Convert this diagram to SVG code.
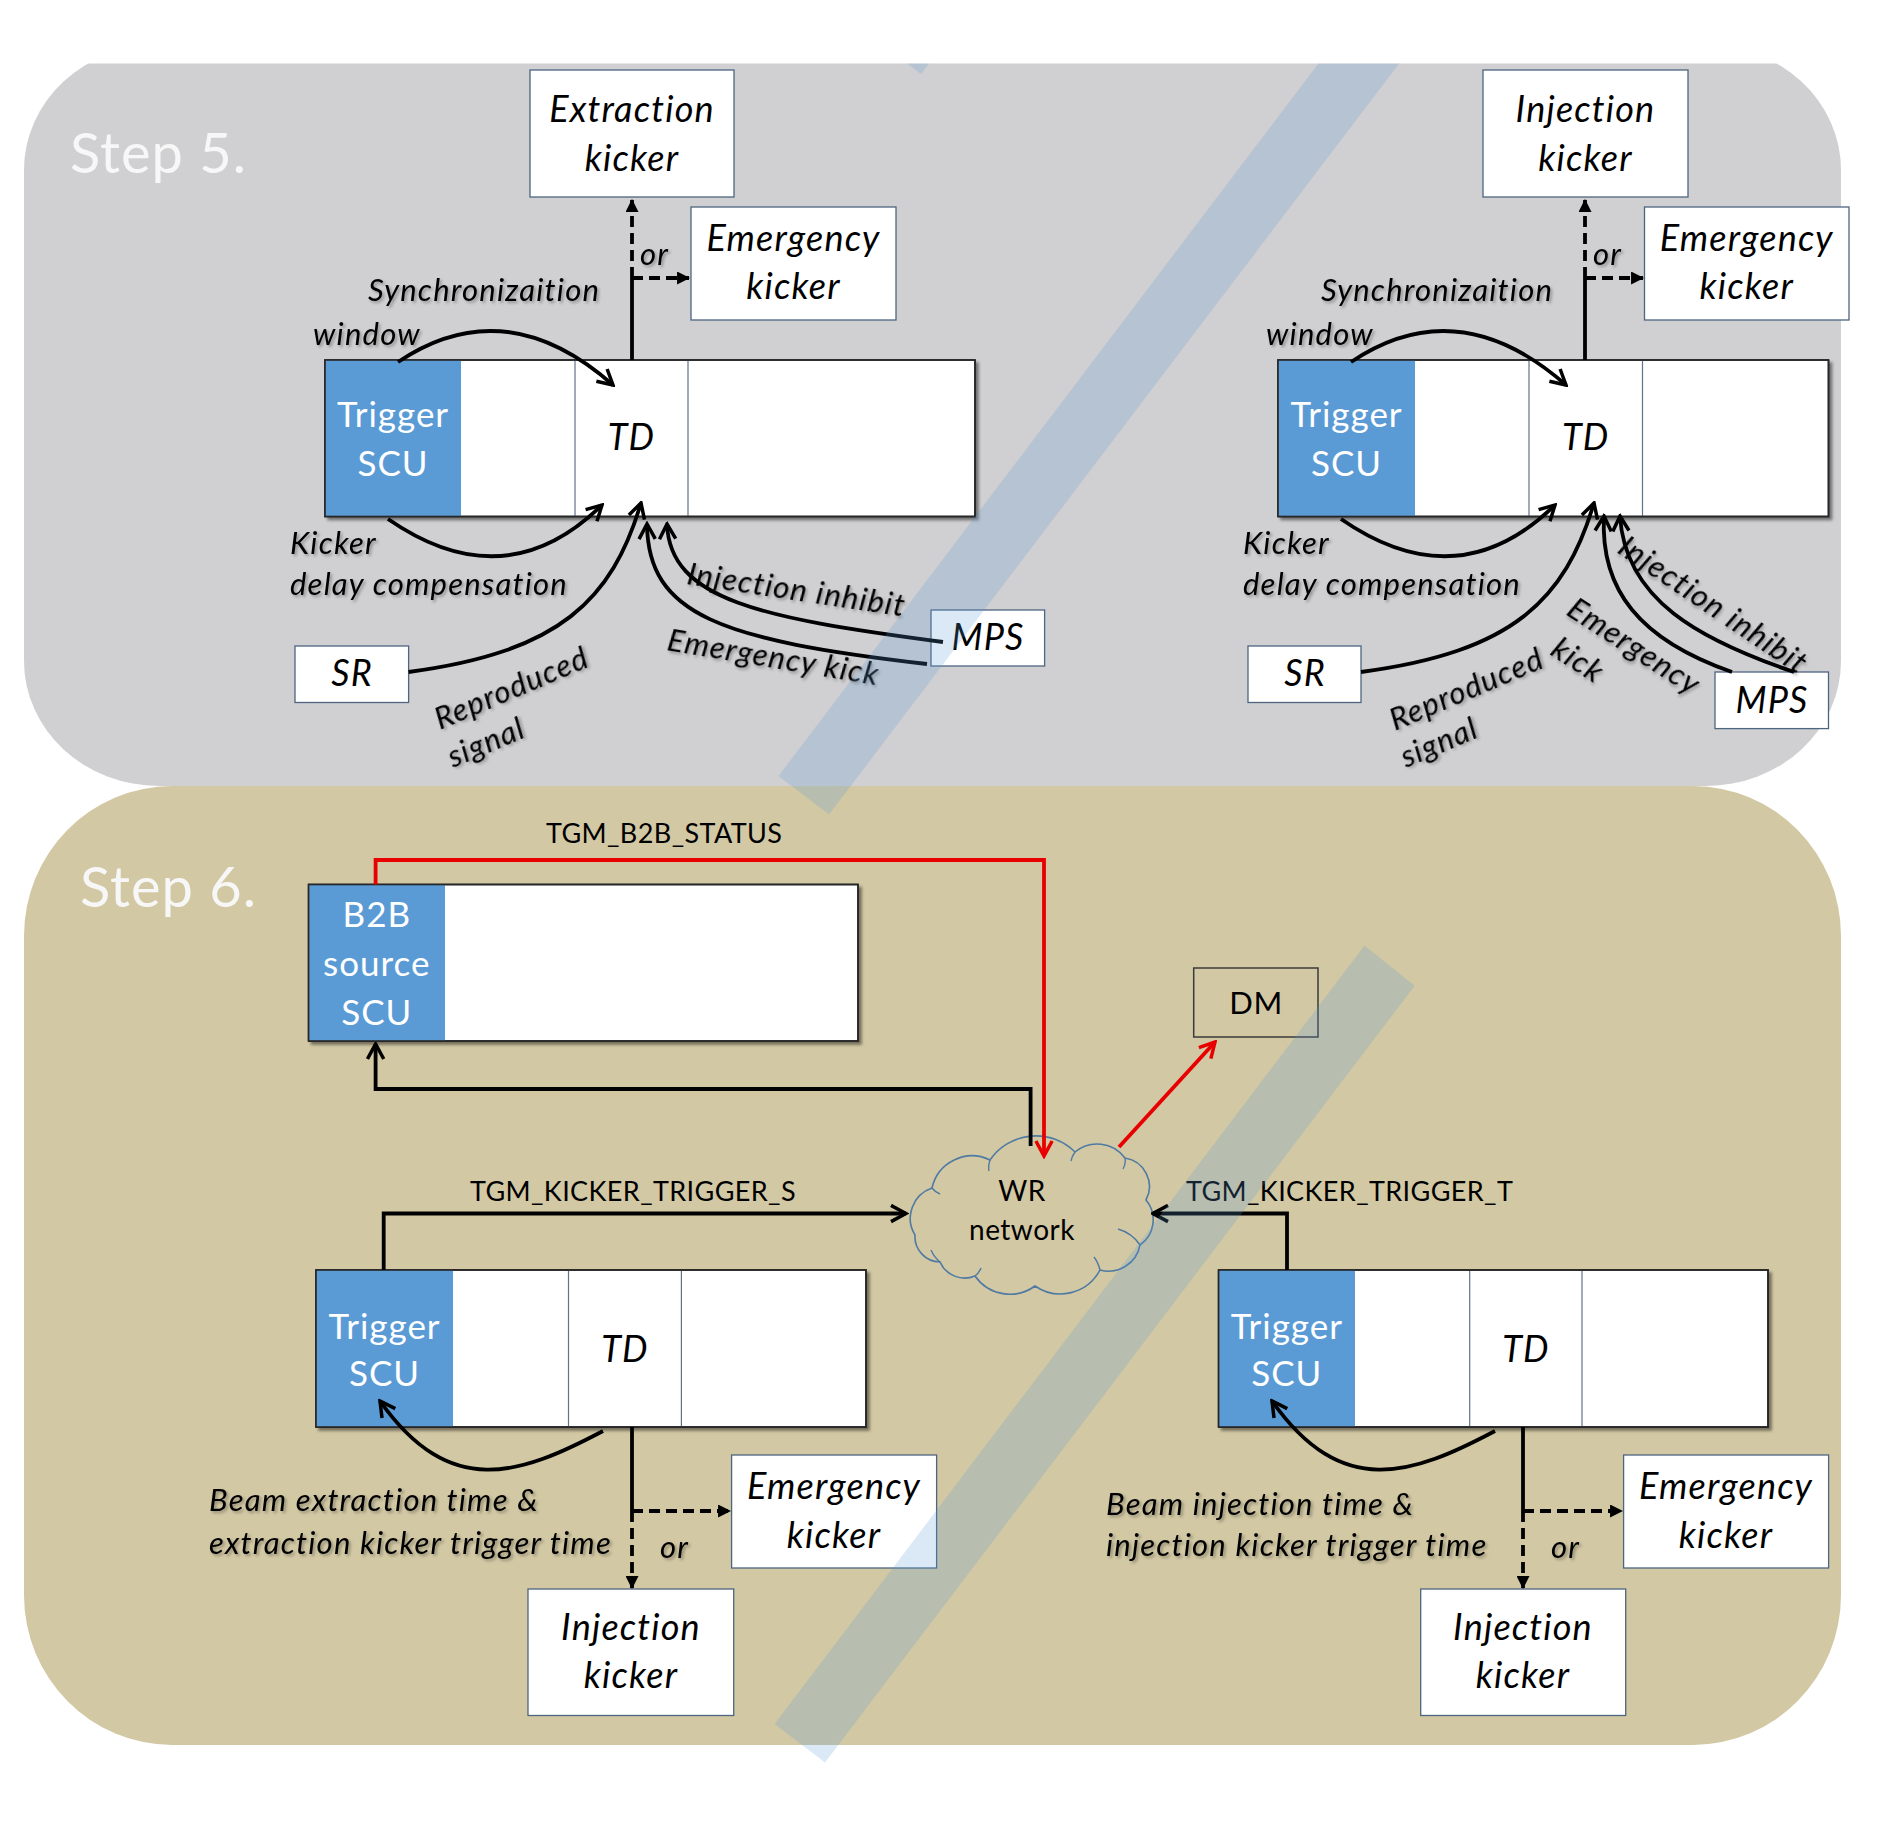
<svg xmlns="http://www.w3.org/2000/svg" width="1888" height="1832" viewBox="0 0 1888 1832">
<defs>
<style>
.t{font-family:Lato,"Liberation Sans",sans-serif}
.bi{font-family:Lato,"Liberation Sans",sans-serif;font-style:italic;font-size:36px;letter-spacing:1.2px;fill:#000;text-anchor:middle}
.scu{font-family:Lato,"Liberation Sans",sans-serif;font-size:35px;letter-spacing:1px;fill:#fff;text-anchor:middle}
.lbl{font-family:Lato,"Liberation Sans",sans-serif;font-style:italic;font-size:31px;letter-spacing:1.2px;fill:#000;filter:url(#tsh)}
.tgm{font-family:Lato,"Liberation Sans",sans-serif;font-size:27px;letter-spacing:0.4px;fill:#000}
.step{font-family:Lato,"Liberation Sans",sans-serif;font-size:56px;letter-spacing:1px;fill:#f7f7f7}
.kbox{fill:#fff;stroke:#4d6680;stroke-width:1.3}
.mbox{fill:#fff;stroke:#262626;stroke-width:1.6}
.blue{fill:#5b9bd5}
.div{stroke:#5f7389;stroke-width:1.2}
.ln{fill:none;stroke:#000;stroke-width:3.8}
.dash{fill:none;stroke:#000;stroke-width:3.8;stroke-dasharray:11 6}
.red{fill:none;stroke:#e80000;stroke-width:3.8}
.stripe{fill:#5b9bd5;fill-opacity:0.22}
</style>
<filter id="tsh" x="-10%" y="-30%" width="130%" height="170%">
<feDropShadow dx="2" dy="2" stdDeviation="1.5" flood-color="#000" flood-opacity="0.3"/>
</filter>
<filter id="bsh" x="-5%" y="-5%" width="115%" height="120%">
<feDropShadow dx="3" dy="3" stdDeviation="1.5" flood-color="#000" flood-opacity="0.45"/>
</filter>
<marker id="op" markerUnits="userSpaceOnUse" viewBox="0 0 16 16" markerWidth="20" markerHeight="20" refX="14" refY="8" orient="auto">
<path d="M2,1.5 L14,8 L2,14.5" fill="none" stroke="#000" stroke-width="2.8"/>
</marker>
<marker id="opr" markerUnits="userSpaceOnUse" viewBox="0 0 16 16" markerWidth="20" markerHeight="20" refX="14" refY="8" orient="auto">
<path d="M2,1.5 L14,8 L2,14.5" fill="none" stroke="#e80000" stroke-width="2.8"/>
</marker>
<marker id="tri" markerUnits="userSpaceOnUse" viewBox="0 0 12 12" markerWidth="13" markerHeight="13" refX="11" refY="6" orient="auto">
<path d="M0,0 L12,6 L0,12 z" fill="#000"/>
</marker>
<clipPath id="clipTop"><rect x="0" y="63.5" width="1888" height="1770"/></clipPath>
</defs>

<rect x="0" y="0" width="1888" height="1832" fill="#fff"/>

<g id="panels" clip-path="url(#clipTop)">
<rect id="panel-step5" x="24" y="45" width="1817" height="741" rx="135" ry="125" fill="#d0cfd1"/>
<rect id="panel-step6" x="24" y="786" width="1817" height="959" rx="148" ry="150" fill="#d2c8a4"/>
</g>

<text class="step" x="70" y="173">Step 5.</text>
<text class="step" x="80" y="907">Step 6.</text>

<!-- Step 5 left -->
<g id="s5L-trigger">
<rect class="mbox" x="325" y="360" width="650" height="156.5" filter="url(#bsh)"/>
<rect class="blue" x="325" y="360" width="136" height="156.5"/>
<line class="div" x1="575" y1="360" x2="575" y2="516.5"/>
<line class="div" x1="688" y1="360" x2="688" y2="516.5"/>
<rect x="325" y="360" width="650" height="156.5" fill="none" stroke="#262626" stroke-width="1.6"/>
<text class="scu" x="393" y="427">Trigger</text>
<text class="scu" x="393" y="476">SCU</text>
<text class="bi" x="631.5" y="450">TD</text>
</g>
<g id="s5L-extraction-kicker">
<rect class="kbox" x="530" y="70" width="204" height="127"/>
<text class="bi" x="632" y="122">Extraction</text>
<text class="bi" x="632" y="171">kicker</text>
</g>
<g id="s5L-emergency-kicker">
<rect class="kbox" x="691" y="207" width="205" height="113"/>
<text class="bi" x="793.5" y="251">Emergency</text>
<text class="bi" x="793.5" y="299">kicker</text>
</g>
<g id="s5L-sr">
<rect class="kbox" x="295" y="646" width="113.6" height="56.5"/>
<text class="bi" x="352" y="686">SR</text>
</g>
<g id="s5L-mps">
<rect class="kbox" x="931" y="610" width="113.6" height="56"/>
<text class="bi" x="988" y="650">MPS</text>
</g>

<!-- Step 5 right -->
<g id="s5R-trigger">
<rect class="mbox" x="1278" y="360" width="550.5" height="156.5" filter="url(#bsh)"/>
<rect class="blue" x="1278" y="360" width="137" height="156.5"/>
<line class="div" x1="1529" y1="360" x2="1529" y2="516.5"/>
<line class="div" x1="1642.5" y1="360" x2="1642.5" y2="516.5"/>
<rect x="1278" y="360" width="550.5" height="156.5" fill="none" stroke="#262626" stroke-width="1.6"/>
<text class="scu" x="1346.5" y="427">Trigger</text>
<text class="scu" x="1346.5" y="476">SCU</text>
<text class="bi" x="1585.75" y="450">TD</text>
</g>
<g id="s5R-injection-kicker">
<rect class="kbox" x="1483" y="70" width="205" height="127"/>
<text class="bi" x="1585.5" y="122">Injection</text>
<text class="bi" x="1585.5" y="171">kicker</text>
</g>
<g id="s5R-emergency-kicker">
<rect class="kbox" x="1644.5" y="207" width="204.5" height="113"/>
<text class="bi" x="1746.75" y="251">Emergency</text>
<text class="bi" x="1746.75" y="299">kicker</text>
</g>
<g id="s5R-sr">
<rect class="kbox" x="1248" y="646" width="113" height="56.5"/>
<text class="bi" x="1305" y="686">SR</text>
</g>
<g id="s5R-mps">
<rect class="kbox" x="1715" y="672" width="113.5" height="56.6"/>
<text class="bi" x="1772" y="712.5">MPS</text>
</g>

<!-- Step 6 -->
<g id="s6-b2b">
<rect class="mbox" x="308.6" y="884.5" width="549.4" height="156.5" filter="url(#bsh)"/>
<rect class="blue" x="308.6" y="884.5" width="136.4" height="156.5"/>
<rect x="308.6" y="884.5" width="549.4" height="156.5" fill="none" stroke="#262626" stroke-width="1.6"/>
<text class="scu" x="376.8" y="927.4">B2B</text>
<text class="scu" x="376.8" y="975.6">source</text>
<text class="scu" x="376.8" y="1024.7">SCU</text>
</g>
<g id="s6-dm">
<rect x="1193.7" y="968" width="124.3" height="69" fill="none" stroke="#3a3a3a" stroke-width="1.5"/>
<text class="t" x="1256" y="1014" font-size="31" letter-spacing="0.5" text-anchor="middle">DM</text>
</g>
<g id="s6-wr-network">
<path d="M915,1235 A32,32 0 0 1 932,1188 A41,41 0 0 1 990,1160 A55.6,55.6 0 0 1 1075,1152 A34.6,34.6 0 0 1 1125,1158 A28.8,28.8 0 0 1 1146,1200 A30.7,30.7 0 0 1 1140,1245 A32,32 0 0 1 1100,1270 A44.7,44.7 0 0 1 1035,1286 A42.5,42.5 0 0 1 975,1276 A27,27 0 0 1 940,1262 A25.4,25.4 0 0 1 915,1235 Z" fill="none" stroke="#4f7aa3" stroke-width="1.6"/>
<path d="M932,1188 q3,4 8,6 M990,1160 q-2,6 -1,11 M1075,1152 q-3,4 -4,9 M1125,1158 q1,6 -2,11 M1140,1245 q-8,-12 -22,-16 M1100,1270 q-2,-8 -6,-13 M975,1276 q4,-3 6,-8 M940,1262 q-6,-5 -9,-12" fill="none" stroke="#4f7aa3" stroke-width="1.4"/>
<text class="t" x="1022" y="1201" font-size="28" letter-spacing="0.5" text-anchor="middle">WR</text>
<text class="t" x="1022" y="1240" font-size="28" letter-spacing="0.5" text-anchor="middle">network</text>
</g>
<g id="s6L-trigger">
<rect class="mbox" x="316" y="1270" width="550" height="157" filter="url(#bsh)"/>
<rect class="blue" x="316" y="1270" width="137" height="157"/>
<line class="div" x1="568.5" y1="1270" x2="568.5" y2="1427"/>
<line class="div" x1="681.4" y1="1270" x2="681.4" y2="1427"/>
<rect x="316" y="1270" width="550" height="157" fill="none" stroke="#262626" stroke-width="1.6"/>
<text class="scu" x="384.5" y="1338.6">Trigger</text>
<text class="scu" x="384.5" y="1385.6">SCU</text>
<text class="bi" x="625" y="1362">TD</text>
</g>
<g id="s6L-emergency-kicker">
<rect class="kbox" x="731.6" y="1455" width="205" height="113"/>
<text class="bi" x="834" y="1499">Emergency</text>
<text class="bi" x="834" y="1547.5">kicker</text>
</g>
<g id="s6L-injection-kicker">
<rect class="kbox" x="528" y="1589" width="205.7" height="126.5"/>
<text class="bi" x="631" y="1640">Injection</text>
<text class="bi" x="631" y="1688">kicker</text>
</g>
<g id="s6R-trigger">
<rect class="mbox" x="1218.6" y="1270" width="549.4" height="157" filter="url(#bsh)"/>
<rect class="blue" x="1218.6" y="1270" width="136.4" height="157"/>
<line class="div" x1="1469.7" y1="1270" x2="1469.7" y2="1427"/>
<line class="div" x1="1582" y1="1270" x2="1582" y2="1427"/>
<rect x="1218.6" y="1270" width="549.4" height="157" fill="none" stroke="#262626" stroke-width="1.6"/>
<text class="scu" x="1286.8" y="1338.6">Trigger</text>
<text class="scu" x="1286.8" y="1385.6">SCU</text>
<text class="bi" x="1526" y="1362">TD</text>
</g>
<g id="s6R-emergency-kicker">
<rect class="kbox" x="1623.6" y="1455" width="205" height="113"/>
<text class="bi" x="1726" y="1499">Emergency</text>
<text class="bi" x="1726" y="1547.5">kicker</text>
</g>
<g id="s6R-injection-kicker">
<rect class="kbox" x="1420.7" y="1589" width="205" height="126.5"/>
<text class="bi" x="1523" y="1640">Injection</text>
<text class="bi" x="1523" y="1688">kicker</text>
</g>

<!-- Connectors -->
<g id="connectors">
<path class="ln" d="M398,362 Q505,290 613,385" marker-end="url(#op)"/>
<path class="ln" d="M388,519 Q505,600 602,505" marker-end="url(#op)"/>
<path class="ln" d="M408.6,672 C560,652 612,600 641,503" marker-end="url(#op)"/>
<path class="ln" d="M943,642 C760,618 670,600 667,524" marker-end="url(#op)"/>
<path class="ln" d="M927,664 C720,640 648,615 647,524" marker-end="url(#op)"/>
<path class="ln" d="M632,360 L632,278"/>
<path class="dash" d="M632,278 L632,200" marker-end="url(#tri)"/>
<path class="dash" d="M632,278 L689,278" marker-end="url(#tri)"/>

<path class="ln" d="M1351,362 Q1458,290 1566,385" marker-end="url(#op)"/>
<path class="ln" d="M1341,519 Q1458,600 1555,505" marker-end="url(#op)"/>
<path class="ln" d="M1361,672 C1513,652 1565,600 1594,503" marker-end="url(#op)"/>
<path class="ln" d="M1794,672 C1700,640 1625,600 1620,516" marker-end="url(#op)"/>
<path class="ln" d="M1732,672 C1640,640 1600,590 1604,516" marker-end="url(#op)"/>
<path class="ln" d="M1585,360 L1585,278"/>
<path class="dash" d="M1585,278 L1585,200" marker-end="url(#tri)"/>
<path class="dash" d="M1585,278 L1643,278" marker-end="url(#tri)"/>

<path class="red" d="M375.6,884.5 L375.6,860 L1044,860 L1044,1156" marker-end="url(#opr)"/>
<path class="ln" d="M1030.6,1146 L1030.6,1089 L375.6,1089 L375.6,1044" marker-end="url(#op)"/>
<path class="red" d="M1119,1147 L1215,1042" marker-end="url(#opr)"/>
<path class="ln" d="M383.7,1270 L383.7,1213.5 L906,1213.5" marker-end="url(#op)"/>
<path class="ln" d="M1287,1270 L1287,1213.5 L1153,1213.5" marker-end="url(#op)"/>
<path class="ln" d="M603,1431 C520,1475 450,1500 380,1401" marker-end="url(#op)"/>
<path class="ln" d="M1495,1431 C1412,1475 1342,1500 1272,1401" marker-end="url(#op)"/>
<path class="ln" d="M632,1427 L632,1511"/>
<path class="dash" d="M632,1511 L632,1588" marker-end="url(#tri)"/>
<path class="dash" d="M632,1511 L730,1511" marker-end="url(#tri)"/>
<path class="ln" d="M1523,1427 L1523,1511"/>
<path class="dash" d="M1523,1511 L1523,1588" marker-end="url(#tri)"/>
<path class="dash" d="M1523,1511 L1622,1511" marker-end="url(#tri)"/>
</g>

<!-- Labels -->
<g id="labels">
<text class="lbl" x="368" y="301">Synchronizaition</text>
<text class="lbl" x="313" y="345">window</text>
<text class="lbl" x="290" y="554">Kicker</text>
<text class="lbl" x="290" y="595">delay compensation</text>
<text class="lbl" x="640" y="265">or</text>
<text class="lbl" transform="translate(686,584) rotate(8.5)">Injection inhibit</text>
<text class="lbl" transform="translate(666,650) rotate(9.5)">Emergency kick</text>
<text class="lbl" transform="translate(440,730) rotate(-23)">Reproduced</text>
<text class="lbl" transform="translate(453,768) rotate(-23)">signal</text>

<text class="lbl" x="1321" y="301">Synchronizaition</text>
<text class="lbl" x="1266" y="345">window</text>
<text class="lbl" x="1243" y="554">Kicker</text>
<text class="lbl" x="1243" y="595">delay compensation</text>
<text class="lbl" x="1593" y="265">or</text>
<text class="lbl" transform="translate(1616,552) rotate(34)">Injection inhibit</text>
<text class="lbl" transform="translate(1565,614) rotate(33)">Emergency</text>
<text class="lbl" transform="translate(1549,654) rotate(33)">kick</text>
<text class="lbl" transform="translate(1395,731) rotate(-23)">Reproduced</text>
<text class="lbl" transform="translate(1406,768) rotate(-23)">signal</text>

<text class="tgm" x="546" y="843">TGM_B2B_STATUS</text>
<text class="tgm" x="470" y="1201">TGM_KICKER_TRIGGER_S</text>
<text class="tgm" x="1186" y="1201">TGM_KICKER_TRIGGER_T</text>

<text class="lbl" x="209" y="1511">Beam extraction time &amp;</text>
<text class="lbl" x="209" y="1553.5">extraction kicker trigger time</text>
<text class="lbl" x="660" y="1558">or</text>
<text class="lbl" x="1106" y="1515">Beam injection time &amp;</text>
<text class="lbl" x="1106" y="1556">injection kicker trigger time</text>
<text class="lbl" x="1551" y="1558">or</text>
</g>

<!-- Translucent diagonal stripes -->
<g id="stripes" clip-path="url(#clipTop)">
<polygon class="stripe" points="774.6,1724 825,1762.5 1414.7,985.7 1364.5,945.5"/>
<polygon class="stripe" points="778.6,776 829,814.5 1418.7,37.7 1368.5,-2.5"/>
<polygon class="stripe" points="870.6,35.5 921,74 1510.7,-702.8 1460.5,-743"/>
</g>
</svg>
